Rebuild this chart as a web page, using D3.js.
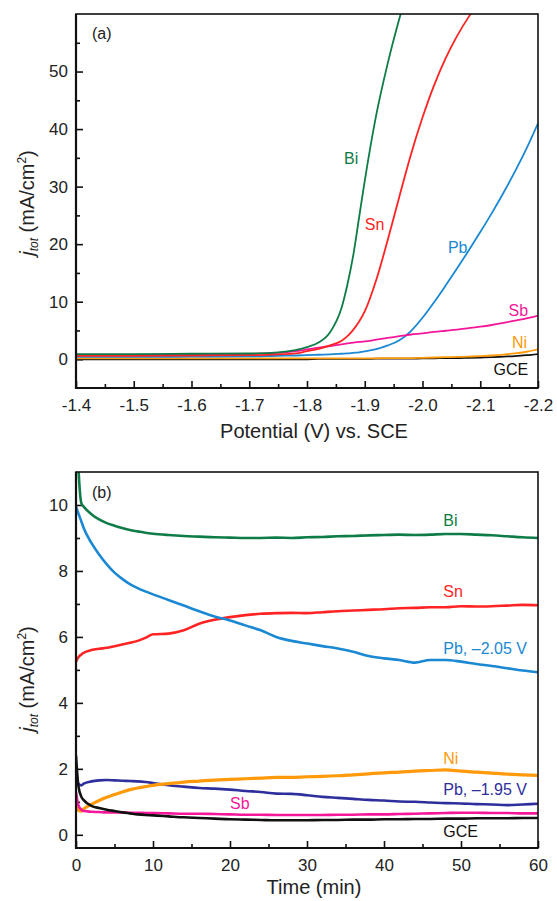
<!DOCTYPE html>
<html>
<head>
<meta charset="utf-8">
<title>jtot curves</title>
<script src="https://cdn.jsdelivr.net/npm/d3@7/dist/d3.min.js"></script>
<style>
  body { margin: 0; background: #fff; }
  svg { font-family: "Liberation Sans", Arial, sans-serif; }
  .tick text { font-size: 17px; fill: #222; }
  .line { fill: none; stroke-linejoin: round; }
</style>
</head>
<body>
<script>
// ---------- panel (a): LSV, current density vs potential ----------
var potential = [-1.40, -1.50, -1.60, -1.70, -1.75, -1.78, -1.80, -1.82, -1.84, -1.86, -1.87, -1.88, -1.89,
                 -1.90, -1.92, -1.94, -1.96, -1.98, -2.00, -2.02, -2.04, -2.06, -2.08, -2.10, -2.12, -2.14,
                 -2.16, -2.18, -2.20];
var lsvBi  = [0.9, 0.9, 0.95, 1.0, 1.2, 1.6, 2.1, 2.9, 4.7, 9.0, 13, 18, 24.5, 31, 42.5, 51.5, 59.2, 66,
              null, null, null, null, null, null, null, null, null, null, null];
var lsvSn  = [0.6, 0.6, 0.65, 0.7, 0.85, 1.0, 1.4, 1.8, 2.4, 3.2, 4.0, 5.1, 6.5, 8.3, 13.8, 20.8, 28.3, 35.6,
              42.0, 47.6, 52.3, 56.2, 59.5, 62.3, null, null, null, null, null];
var lsvPb  = [0.4, 0.4, 0.45, 0.5, 0.6, 0.65, 0.7, 0.78, 0.85, 0.95, 1.0, 1.1, 1.2, 1.35, 1.75, 2.4, 3.3, 4.9,
              7.2, 9.9, 12.8, 15.8, 18.9, 22.1, 25.4, 28.9, 32.6, 36.6, 41.0];
var lsvSb  = [0.7, 0.75, 0.8, 0.9, 1.1, 1.4, 1.7, 2.0, 2.3, 2.6, 2.75, 2.9, 3.0, 3.1, 3.4, 3.7, 4.0, 4.3,
              4.5, 4.75, 4.95, 5.15, 5.4, 5.65, 5.95, 6.3, 6.7, 7.1, 7.6];
var lsvNi  = [0.15, 0.15, 0.15, 0.15, 0.15, 0.15, 0.15, 0.15, 0.15, 0.15, 0.15, 0.15, 0.15, 0.15, 0.15, 0.2,
              0.2, 0.2, 0.25, 0.3, 0.35, 0.4, 0.45, 0.55, 0.65, 0.8, 1.0, 1.3, 1.7];
var lsvGCE = [0.0, 0.0, 0.0, 0.0, 0.0, 0.0, 0.0, 0.05, 0.05, 0.05, 0.05, 0.05, 0.05, 0.05, 0.1, 0.1, 0.1, 0.1,
              0.15, 0.15, 0.2, 0.2, 0.25, 0.3, 0.35, 0.45, 0.55, 0.7, 0.9];

// ---------- panel (b): current density vs time ----------
var time = [0, 0.3, 0.7, 1, 2, 3, 4, 5, 6, 7, 8, 9, 10, 12, 14, 16, 18, 20, 22, 24, 26, 28, 30, 32, 34,
            36, 38, 40, 42, 44, 46, 48, 50, 52, 54, 56, 58, 60];
var caBi    = [13, 11.2, 10.05, 9.95, 9.72, 9.56, 9.45, 9.37, 9.3, 9.24, 9.2, 9.16, 9.13, 9.09, 9.06, 9.04,
               9.02, 9.01, 9.0, 9.0, 9.01, 9.0, 9.02, 9.03, 9.05, 9.06, 9.08, 9.09, 9.1, 9.09, 9.1, 9.12,
               9.12, 9.1, 9.08, 9.05, 9.02, 9.0];
var caSn    = [5.25, 5.38, 5.47, 5.52, 5.6, 5.64, 5.67, 5.72, 5.77, 5.82, 5.88, 5.97, 6.08, 6.1, 6.2, 6.4,
               6.52, 6.6, 6.66, 6.7, 6.72, 6.73, 6.72, 6.75, 6.78, 6.8, 6.82, 6.84, 6.87, 6.88, 6.9, 6.9,
               6.93, 6.92, 6.93, 6.95, 6.97, 6.96];
var caPb205 = [9.95, 9.75, 9.5, 9.3, 8.85, 8.5, 8.2, 7.95, 7.76, 7.6, 7.48, 7.38, 7.29, 7.12, 6.95, 6.78,
               6.62, 6.5, 6.35, 6.2, 6.0, 5.88, 5.8, 5.72, 5.65, 5.55, 5.42, 5.35, 5.3, 5.22, 5.3, 5.3,
               5.25, 5.18, 5.12, 5.05, 4.98, 4.93];
var caNi    = [0.9, 0.75, 0.72, 0.78, 0.92, 1.04, 1.14, 1.22, 1.3, 1.37, 1.42, 1.46, 1.5, 1.55, 1.6, 1.63,
               1.66, 1.68, 1.7, 1.72, 1.74, 1.74, 1.76, 1.77, 1.79, 1.82, 1.85, 1.88, 1.9, 1.93, 1.95, 1.97,
               1.93, 1.9, 1.87, 1.84, 1.82, 1.8];
var caPb195 = [2.0, 1.55, 1.5, 1.55, 1.62, 1.65, 1.66, 1.65, 1.64, 1.63, 1.62, 1.6, 1.57, 1.5, 1.46, 1.42,
               1.4, 1.37, 1.33, 1.3, 1.25, 1.24, 1.2, 1.15, 1.12, 1.09, 1.06, 1.04, 1.01, 1.0, 0.98, 0.96,
               0.95, 0.93, 0.92, 0.9, 0.92, 0.94];
var caSb    = [1.3, 0.9, 0.76, 0.72, 0.7, 0.69, 0.68, 0.68, 0.68, 0.67, 0.67, 0.66, 0.66, 0.65, 0.64, 0.64,
               0.63, 0.62, 0.61, 0.61, 0.6, 0.6, 0.6, 0.6, 0.61, 0.61, 0.62, 0.62, 0.63, 0.64, 0.65, 0.66,
               0.67, 0.67, 0.66, 0.66, 0.65, 0.65];
var caGCE   = [2.4, 1.5, 1.15, 1.05, 0.88, 0.81, 0.76, 0.72, 0.68, 0.65, 0.62, 0.6, 0.59, 0.56, 0.53, 0.51,
               0.49, 0.47, 0.46, 0.45, 0.44, 0.44, 0.44, 0.45, 0.45, 0.46, 0.46, 0.47, 0.47, 0.48, 0.48, 0.49,
               0.49, 0.5, 0.5, 0.5, 0.51, 0.51];

var colors = {Bi: "#0e7c47", Sn: "#ff2323", Pb: "#1a88d2", Sb: "#f4179a", Ni: "#ff9a0a", GCE: "#111111", Pb2: "#2e2e9c"};

var W = 557, H = 901;
var svg = d3.select("body").append("svg").attr("width", W).attr("height", H);

function makePanel(id, box, xDomain, yDomain, xMajor, xMinor, yMajor, yMinor, xFmt) {
  var x = d3.scaleLinear().domain(xDomain).range([box.left, box.right]);
  var y = d3.scaleLinear().domain(yDomain).range([box.bottom, box.top]);
  var g = svg.append("g");

  g.append("clipPath").attr("id", id)
    .append("rect").attr("x", box.left).attr("y", box.top)
    .attr("width", box.right - box.left).attr("height", box.bottom - box.top);

  // minor ticks (inside)
  g.append("g").attr("transform", "translate(0," + box.bottom + ")")
    .call(d3.axisBottom(x).tickValues(xMinor).tickSize(-4).tickFormat(""))
    .call(s => s.select(".domain").remove());
  g.append("g").attr("transform", "translate(" + box.left + ",0)")
    .call(d3.axisLeft(y).tickValues(yMinor).tickSize(-4).tickFormat(""))
    .call(s => s.select(".domain").remove());
  // major ticks
  g.append("g").attr("transform", "translate(0," + box.bottom + ")")
    .call(d3.axisBottom(x).tickValues(xMajor).tickSize(-7).tickPadding(11).tickFormat(xFmt))
    .call(s => s.select(".domain").remove());
  g.append("g").attr("transform", "translate(" + box.left + ",0)")
    .call(d3.axisLeft(y).tickValues(yMajor).tickSize(-7).tickPadding(8).tickFormat(d3.format("d")))
    .call(s => s.select(".domain").remove());
  g.selectAll(".tick line").attr("stroke", "#111").attr("stroke-width", 1.6);

  var plot = g.append("g").attr("clip-path", "url(#" + id + ")");

  // frame
  g.append("rect").attr("x", box.left).attr("y", box.top)
    .attr("width", box.right - box.left).attr("height", box.bottom - box.top)
    .attr("fill", "none").attr("stroke", "#111").attr("stroke-width", 1.6);
  g.append("path")
    .attr("d", "M" + box.left + "," + box.top + "V" + box.bottom + "H" + box.right)
    .attr("fill", "none").attr("stroke", "#111").attr("stroke-width", 2.2);

  return {x: x, y: y, g: g, plot: plot};
}

// ----- panel (a) -----
var boxA = {left: 76, right: 538, top: 14, bottom: 388};
var pA = makePanel("clipA", boxA, [-1.4, -2.2], [-5, 60],
  d3.range(0, 9).map(i => -1.4 - i * 0.1),
  d3.range(0, 8).map(i => -1.45 - i * 0.1),
  d3.range(0, 60, 10), d3.range(5, 60, 10),
  d => d.toFixed(1));

var seriesA = [
  {name: "GCE", v: lsvGCE, c: colors.GCE},
  {name: "Ni", v: lsvNi, c: colors.Ni},
  {name: "Pb", v: lsvPb, c: colors.Pb},
  {name: "Sb", v: lsvSb, c: colors.Sb},
  {name: "Sn", v: lsvSn, c: colors.Sn},
  {name: "Bi", v: lsvBi, c: colors.Bi}
];
var lineA = d3.line()
  .defined(d => d[1] != null)
  .x(d => pA.x(d[0])).y(d => pA.y(d[1]))
  .curve(d3.curveMonotoneX);
seriesA.forEach(function(s) {
  pA.plot.append("path").attr("class", "line")
    .attr("d", lineA(potential.map((p, i) => [p, s.v[i]])))
    .attr("stroke", s.c).attr("stroke-width", 1.8);
});

var labelsA = [
  {t: "Bi", x: -1.864, y: 34.0, c: colors.Bi, a: "start"},
  {t: "Sn", x: -1.900, y: 22.4, c: colors.Sn, a: "start"},
  {t: "Pb", x: -2.044, y: 18.4, c: colors.Pb, a: "start"},
  {t: "Sb", x: -2.183, y: 7.6, c: colors.Sb, a: "end"},
  {t: "Ni", x: -2.181, y: 1.9, c: colors.Ni, a: "end"},
  {t: "GCE", x: -2.183, y: -2.8, c: colors.GCE, a: "end"}
];
pA.g.selectAll("text.lab").data(labelsA).enter().append("text")
  .attr("class", "lab")
  .attr("x", d => pA.x(d.x)).attr("y", d => pA.y(d.y))
  .attr("text-anchor", d => d.a)
  .attr("fill", d => d.c).attr("font-size", 16)
  .text(d => d.t);

pA.g.append("text").attr("x", 92).attr("y", 39).attr("font-size", 16).attr("fill", "#222").text("(a)");

// ----- panel (b) -----
var boxB = {left: 76, right: 538, top: 472, bottom: 848};
var pB = makePanel("clipB", boxB, [0, 60], [-0.4, 11],
  d3.range(0, 61, 10), d3.range(5, 60, 10),
  d3.range(0, 11, 2), d3.range(1, 11, 2),
  d3.format("d"));

var seriesB = [
  {name: "Bi", v: caBi, c: colors.Bi},
  {name: "Sn", v: caSn, c: colors.Sn},
  {name: "Pb205", v: caPb205, c: colors.Pb},
  {name: "Pb195", v: caPb195, c: colors.Pb2},
  {name: "Ni", v: caNi, c: colors.Ni},
  {name: "Sb", v: caSb, c: colors.Sb},
  {name: "GCE", v: caGCE, c: colors.GCE}
];
var lineB = d3.line()
  .x(d => pB.x(d[0])).y(d => pB.y(d[1]))
  .curve(d3.curveMonotoneX);
seriesB.forEach(function(s) {
  pB.plot.append("path").attr("class", "line")
    .attr("d", lineB(time.map((t, i) => [t, s.v[i]])))
    .attr("stroke", s.c).attr("stroke-width", s.name == "Ni" ? 3.2 : 2.6);
});

var labelsB = [
  {t: "Bi", x: 47.7, y: 9.36, c: colors.Bi},
  {t: "Sn", x: 47.7, y: 7.2, c: colors.Sn},
  {t: "Pb, \u20132.05 V", x: 47.7, y: 5.47, c: colors.Pb},
  {t: "Ni", x: 47.7, y: 2.16, c: colors.Ni},
  {t: "Pb, \u20131.95 V", x: 47.7, y: 1.22, c: colors.Pb2},
  {t: "Sb", x: 20.0, y: 0.79, c: colors.Sb},
  {t: "GCE", x: 47.7, y: -0.06, c: colors.GCE}
];
pB.g.selectAll("text.lab").data(labelsB).enter().append("text")
  .attr("class", "lab")
  .attr("x", d => pB.x(d.x)).attr("y", d => pB.y(d.y))
  .attr("fill", d => d.c).attr("font-size", 16)
  .text(d => d.t);

pB.g.append("text").attr("x", 92).attr("y", 498).attr("font-size", 16).attr("fill", "#222").text("(b)");

// ----- axis titles -----
svg.append("text").attr("x", 314).attr("y", 438).attr("text-anchor", "middle")
  .attr("font-size", 20).attr("fill", "#222").text("Potential (V) vs. SCE");
svg.append("text").attr("x", 314).attr("y", 894).attr("text-anchor", "middle")
  .attr("font-size", 20).attr("fill", "#222").text("Time (min)");

function yTitle(cy) {
  var t = svg.append("text")
    .attr("transform", "translate(34," + cy + ") rotate(-90)")
    .attr("text-anchor", "middle").attr("font-size", 20).attr("fill", "#222");
  t.append("tspan").attr("font-style", "italic").text("j");
  t.append("tspan").attr("font-style", "italic").attr("font-size", 12).attr("dy", 4).text("tot");
  t.append("tspan").attr("dy", -4).text(" (mA/cm");
  t.append("tspan").attr("font-size", 12).attr("dy", -8).text("2");
  t.append("tspan").attr("dy", 8).text(")");
}
yTitle(203);
yTitle(679);
</script>
</body>
</html>
